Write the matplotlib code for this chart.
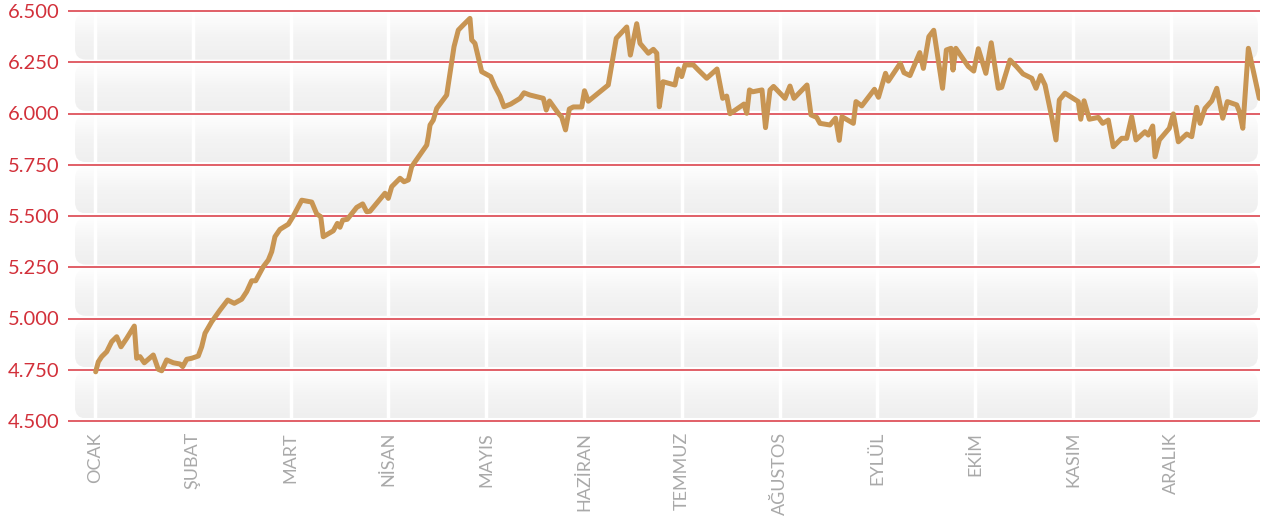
import matplotlib
matplotlib.use('Agg')
import numpy as np
import matplotlib.pyplot as plt
from matplotlib.patches import FancyBboxPatch
from matplotlib.colors import LinearSegmentedColormap
from matplotlib.ticker import FuncFormatter

months = ['OCAK', 'ŞUBAT', 'MART', 'NİSAN', 'MAYIS', 'HAZİRAN',
          'TEMMUZ', 'AĞUSTOS', 'EYLÜL', 'EKİM', 'KASIM', 'ARALIK']

# time in months from the start of January
t = [0.007, 0.034, 0.069, 0.120, 0.171, 0.222, 0.266, 0.324, 0.402, 0.426,
     0.460, 0.504, 0.596, 0.647, 0.682, 0.733, 0.801, 0.869, 0.897, 0.938,
     0.989, 1.056, 1.091, 1.125, 1.193, 1.278, 1.357, 1.424, 1.500, 1.551,
     1.602, 1.643, 1.721, 1.772, 1.807, 1.840, 1.892, 1.977, 2.028, 2.114,
     2.216, 2.267, 2.308, 2.334, 2.437, 2.478, 2.505, 2.533, 2.580, 2.676,
     2.737, 2.778, 2.812, 2.965, 2.999, 3.034, 3.119, 3.160, 3.204, 3.238,
     3.392, 3.408, 3.426, 3.459, 3.494, 3.596, 3.630, 3.671, 3.715, 3.766,
     3.834, 3.852, 3.885, 3.954, 4.046, 4.090, 4.141, 4.182, 4.251, 4.346,
     4.387, 4.448, 4.584, 4.614, 4.647, 4.737, 4.772, 4.811, 4.850, 4.891,
     4.977, 5.005, 5.044, 5.248, 5.330, 5.437, 5.474, 5.539, 5.573, 5.658,
     5.709, 5.744, 5.770, 5.808, 5.930, 5.964, 5.999, 6.033, 6.118, 6.169,
     6.255, 6.360, 6.418, 6.459, 6.493, 6.636, 6.664, 6.692, 6.725, 6.820,
     6.856, 6.902, 6.938, 7.004, 7.055, 7.106, 7.147, 7.280, 7.321, 7.379,
     7.413, 7.515, 7.572, 7.610, 7.638, 7.754, 7.781, 7.840, 7.970, 8.011,
     8.083, 8.112, 8.234, 8.272, 8.333, 8.433, 8.470, 8.526, 8.576, 8.666,
     8.705, 8.753, 8.773, 8.802, 8.930, 8.985, 9.032, 9.109, 9.164, 9.236,
     9.271, 9.356, 9.422, 9.489, 9.578, 9.622, 9.668, 9.714, 9.782, 9.826,
     9.860, 9.918, 10.054, 10.079, 10.113, 10.167, 10.259, 10.304, 10.361, 10.412,
     10.498, 10.549, 10.600, 10.644, 10.736, 10.770, 10.815, 10.839, 10.883, 10.985,
     11.026, 11.077, 11.163, 11.214, 11.265, 11.299, 11.350, 11.419, 11.470, 11.531,
     11.578, 11.674, 11.701, 11.736, 11.793, 11.905]

price = [4740, 4789, 4814, 4838, 4887, 4911, 4862, 4903, 4963, 4806,
         4814, 4784, 4822, 4752, 4745, 4798, 4784, 4778, 4765, 4801,
         4806, 4817, 4862, 4928, 4984, 5041, 5090, 5074, 5094, 5131,
         5184, 5184, 5253, 5285, 5326, 5399, 5435, 5460, 5500, 5577,
         5568, 5510, 5497, 5399, 5428, 5464, 5445, 5480, 5484, 5542,
         5559, 5521, 5523, 5611, 5586, 5643, 5684, 5667, 5676, 5741,
         5846, 5887, 5944, 5968, 6025, 6090, 6196, 6326, 6407, 6432,
         6464, 6359, 6342, 6204, 6180, 6131, 6085, 6033, 6046, 6074,
         6101, 6090, 6074, 6017, 6061, 6001, 5983, 5920, 6022, 6032,
         6032, 6111, 6060, 6139, 6367, 6422, 6285, 6438, 6342, 6294,
         6313, 6294, 6033, 6155, 6139, 6217, 6180, 6237, 6237, 6212,
         6172, 6217, 6074, 6085, 5999, 6046, 6001, 6115, 6106, 6115,
         5931, 6115, 6132, 6099, 6074, 6134, 6074, 6139, 5993, 5981,
         5952, 5944, 5977, 5869, 5984, 5952, 6058, 6037, 6118, 6079,
         6196, 6158, 6245, 6199, 6185, 6297, 6220, 6375, 6406, 6123,
         6310, 6318, 6212, 6318, 6229, 6207, 6316, 6196, 6345, 6123,
         6128, 6261, 6229, 6193, 6172, 6123, 6185, 6139, 5984, 5871,
         6066, 6099, 6058, 5972, 6062, 5972, 5981, 5952, 5968, 5838,
         5879, 5879, 5984, 5871, 5911, 5895, 5939, 5789, 5871, 5928,
         5998, 5862, 5900, 5887, 6030, 5952, 6025, 6062, 6123, 5977,
         6058, 6042, 6009, 5928, 6318, 6074]

y_ticks = [4500, 4750, 5000, 5250, 5500, 5750, 6000, 6250, 6500]

fig = plt.figure(figsize=(12.68, 5.22), dpi=100)
ax = fig.add_axes([68 / 1268, 1 - 421 / 522, (1260 - 68) / 1268, 410 / 522])

x_lo, x_hi = -0.276, 11.912

# light rounded bands with a white-to-grey gradient
cmap = LinearSegmentedColormap.from_list('band', ['#efefef', '#f4f4f4', '#fefefe'])
grad = np.linspace(0, 1, 64).reshape(-1, 1)
for lo, hi in zip(y_ticks[:-1], y_ticks[1:]):
    b0, b1 = lo + 13, hi - 11
    patch = FancyBboxPatch((-0.204, b0), 11.89 + 0.204, b1 - b0,
                           boxstyle='round,pad=0,rounding_size=0.11',
                           mutation_aspect=490, facecolor='none',
                           edgecolor='none', transform=ax.transData)
    ax.add_patch(patch)
    im = ax.imshow(grad, extent=[-0.204, 11.89, b0, b1], origin='lower',
                   aspect='auto', cmap=cmap, zorder=0.5, interpolation='bicubic')
    im.set_clip_path(patch)

# white separators at each month
for i in range(len(months)):
    ax.axvline(i, color='white', lw=2.5, zorder=0.8)

ax.hlines(y_ticks, x_lo, x_hi, colors='#d9343e', lw=1.1, zorder=1, clip_on=False)

ax.plot(t, price, color='#c89553', lw=3.6, solid_joinstyle='round',
        solid_capstyle='round', zorder=3)

ax.set_xlim(x_lo, x_hi)
ax.set_ylim(4500, 6500)
ax.set_yticks(y_ticks)
ax.yaxis.set_major_formatter(FuncFormatter(lambda v, p: f'{v:,.0f}'.replace(',', '.')))
ax.set_xticks(range(len(months)))
ax.set_xticklabels(months, rotation=90, va='top', ha='center')
ax.tick_params(axis='y', length=0, pad=6, labelsize=14.5, labelcolor='#d2303a')
ax.tick_params(axis='x', length=0, pad=8, labelsize=13, labelcolor='#a9a9a9')
for lab in ax.get_xticklabels() + ax.get_yticklabels():
    lab.set_family(['Lato', 'DejaVu Sans'])
for s in ax.spines.values():
    s.set_visible(False)

fig.savefig('out.png', dpi=100)
